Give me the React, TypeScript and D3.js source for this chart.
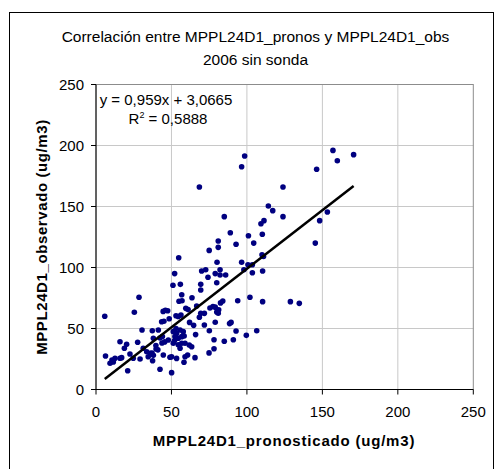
import React from "react";
import * as d3 from "d3";

const W = 494;
const H = 469;

const titleLines = ["Correlación entre MPPL24D1_pronos y MPPL24D1_obs", "2006 sin sonda"];
const xTitle = "MPPL24D1_pronosticado (ug/m3)";
const yTitle = "MPPL24D1_observado (ug/m3)";
const xTicks = [0, 50, 100, 150, 200, 250];
const yTicks = [0, 50, 100, 150, 200, 250];
const slope = 0.959;
const intercept = 3.0665;
const eqLine1 = "y = 0,959x + 3,0665";
const r2Value = "0,5888";

const xs = [
  157.0, 159.9, 170.7, 146.2, 123.9, 114.2, 117.1, 123.9, 111.3, 109.3,
  110.2, 101.0, 104.5, 110.0, 111.0, 103.6, 110.4, 102.0, 110.4, 128.8,
  134.7, 148.2, 153.3, 145.3, 98.5, 96.5, 68.5, 85.0, 89.0, 81.0,
  81.0, 92.8, 75.0, 54.8, 80.2, 96.5, 52.1, 70.0, 72.7, 79.0,
  82.2, 82.2, 85.9, 98.0, 100.7, 103.6, 80.0, 74.2, 51.0, 55.9,
  69.4, 69.4, 56.8, 55.0, 57.0, 63.6, 93.9, 77.5, 79.0, 82.5,
  84.0, 81.3, 59.5, 61.0, 66.7, 53.0, 54.5, 69.4, 71.8, 75.5,
  68.5, 80.0, 81.0, 79.0, 64.7, 71.8, 75.1, 88.5, 89.5, 92.8,
  99.6, 106.5, 78.2, 85.0, 91.0, 78.2, 51.2, 53.4, 55.7, 57.8,
  52.3, 54.5, 56.8, 58.4, 51.2, 54.5, 56.8, 59.0, 55.7, 61.8,
  63.4, 50.1, 53.4, 59.0, 65.6, 60.7, 58.3, 50.1, 52.0, 53.0,
  5.8, 28.5, 25.4, 44.5, 46.0, 47.5, 43.5, 45.0, 30.5, 37.3,
  41.3, 15.9, 20.3, 18.8, 27.6, 38.0, 42.4, 44.0, 43.7, 45.5,
  47.9, 33.6, 37.1, 38.0, 39.8, 41.0, 29.2, 22.5, 17.0, 6.3,
  10.6, 11.5, 9.3, 34.6, 37.5, 49.0, 21.0, 42.4, 12.6, 15.9,
  24.7, 31.3, 36.0, 39.7, 44.6, 56.3, 62.0, 48.5, 66.0, 74.9
];
const ys = [
  196.0, 187.5, 192.5, 180.5, 166.0, 150.4, 146.6, 141.7, 138.4, 135.9,
  127.2, 126.0, 120.0, 110.5, 109.0, 95.7, 97.1, 75.6, 72.0, 72.0,
  70.6, 138.4, 145.5, 120.0, 191.4, 182.6, 166.0, 141.7, 128.5, 121.7,
  116.5, 119.0, 114.0, 108.0, 104.3, 104.3, 95.0, 97.1, 98.2, 95.0,
  98.2, 93.9, 93.9, 98.2, 102.3, 102.3, 87.5, 92.0, 85.4, 86.2,
  86.2, 81.6, 77.7, 72.3, 72.8, 75.2, 72.8, 68.0, 67.5, 71.0,
  72.5, 65.4, 66.5, 65.5, 68.4, 60.5, 59.8, 62.4, 62.4, 66.8,
  59.2, 63.5, 62.5, 55.1, 52.6, 52.9, 48.2, 54.0, 55.0, 48.0,
  44.4, 48.2, 40.8, 39.5, 40.8, 33.4, 47.4, 46.0, 48.8, 47.4,
  43.3, 42.0, 43.3, 43.9, 37.9, 36.6, 37.9, 37.9, 33.8, 36.5,
  35.1, 26.9, 25.5, 26.9, 26.1, 28.3, 22.3, 13.8, 40.0, 50.0,
  60.0, 75.6, 63.3, 64.0, 65.0, 64.5, 55.5, 56.0, 48.8, 48.2,
  48.8, 39.2, 37.0, 33.8, 38.7, 42.0, 42.2, 43.5, 38.1, 39.0,
  40.6, 31.0, 29.9, 28.0, 33.2, 32.5, 25.0, 29.1, 26.1, 27.5,
  24.2, 22.5, 21.5, 26.9, 23.6, 26.4, 15.4, 16.6, 25.6, 25.6,
  25.6, 33.8, 29.7, 36.0, 28.3, 61.0, 55.0, 58.0, 45.0, 30.0
];

const FONT = "'Liberation Sans', Arial, sans-serif";

export default function App() {
  const x = d3.scaleLinear().domain([0, 250]).range([96, 473.3]);
  const y = d3.scaleLinear().domain([0, 250]).range([389.5, 84.5]);
  const pts = xs.map((v, i) => ({ x: v, y: ys[i] }));
  const xMin = d3.min(xs) as number;
  const xMax = d3.max(xs) as number;
  const line = d3
    .line<number>()
    .x((d) => x(d))
    .y((d) => y(slope * d + intercept));

  return (
    <svg
      width={W}
      height={H}
      style={{ position: "absolute", left: 0, top: 0, background: "#fff" }}
      fontFamily={FONT}
    >
      <rect x={9.5} y={12.5} width={484} height={470} fill="#fff" stroke="#000" strokeWidth={1} />
      {titleLines.map((t, i) => (
        <text key={i} x={255.5} y={42 + i * 23} textAnchor="middle" fontSize={15.5} fill="#000">
          {t}
        </text>
      ))}
      {/* grid */}
      {xTicks.filter((t) => t > 0 && t < 250).map((t) => (
        <line key={"gx" + t} x1={x(t)} x2={x(t)} y1={y(250)} y2={y(0)} stroke="#c8c8c8" strokeWidth={1} />
      ))}
      {yTicks.filter((t) => t > 0 && t < 250).map((t) => (
        <line key={"gy" + t} x1={x(0)} x2={x(250)} y1={y(t)} y2={y(t)} stroke="#c8c8c8" strokeWidth={1} />
      ))}
      <rect x={x(0)} y={y(250)} width={x(250) - x(0)} height={y(0) - y(250)} fill="none" stroke="#8c8c8c" strokeWidth={1} />
      {/* axes */}
      <line x1={x(0)} x2={x(0)} y1={y(250)} y2={y(0)} stroke="#000" strokeWidth={1} />
      <line x1={x(0)} x2={x(250)} y1={y(0)} y2={y(0)} stroke="#000" strokeWidth={1} />
      {xTicks.map((t) => (
        <g key={"xt" + t}>
          <line x1={x(t)} x2={x(t)} y1={y(0)} y2={y(0) + 5} stroke="#000" />
          <text x={x(t)} y={416.5} textAnchor="middle" fontSize={15}>{t}</text>
        </g>
      ))}
      {yTicks.map((t) => (
        <g key={"yt" + t}>
          <line x1={x(0) - 5} x2={x(0)} y1={y(t)} y2={y(t)} stroke="#000" />
          <text x={84} y={y(t) + 5.3} textAnchor="end" fontSize={15}>{t}</text>
        </g>
      ))}
      {/* points */}
      {pts.map((p, i) => (
        <circle key={i} cx={x(p.x)} cy={y(p.y)} r={2.8} fill="#000080" />
      ))}
      {/* trendline */}
      <path d={line([xMin, xMax]) || ""} stroke="#000" strokeWidth={2.5} fill="none" />
      {/* equation */}
      <text x={166} y={105} textAnchor="middle" fontSize={15}>{eqLine1}</text>
      <text x={168} y={123.5} textAnchor="middle" fontSize={15}>
        R<tspan dy={-6} fontSize={9}>2</tspan><tspan dy={6}>{" = " + r2Value}</tspan>
      </text>
      {/* axis titles */}
      <text x={284} y={446} textAnchor="middle" fontSize={15} fontWeight="bold" letterSpacing={0.8}>
        {xTitle}
      </text>
      <text transform="translate(46.5,237) rotate(-90)" textAnchor="middle" fontSize={15} fontWeight="bold" letterSpacing={0.6}>
        {yTitle}
      </text>
    </svg>
  );
}
